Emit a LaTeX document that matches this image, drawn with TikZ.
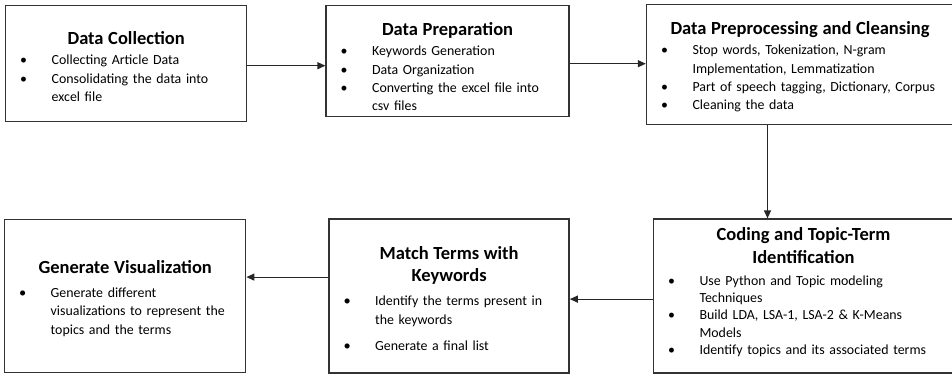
\documentclass[tikz,border=0pt]{standalone}
\usepackage{fontspec}
\setmainfont{Carlito}
\usepackage{enumitem}
\usetikzlibrary{arrows.meta,positioning}

% bullet lists inside the stage boxes
\setlist[itemize]{label=\makebox[0pt]{\textbullet}, leftmargin=46pt,
  labelwidth=0pt, labelsep=28pt, align=right, topsep=0pt, partopsep=0pt,
  itemsep=0pt, parsep=0pt}
\newcommand{\bigdot}{\makebox[0pt]{\Large\textbullet}}
% optional arg: strut height above the title, pushes the box text down
\newcommand{\stagetitle}[2][0pt]{{\centering\fontsize{18.5}{22.5}\selectfont\bfseries
  \rule{0pt}{#1}#2\par}\vspace{2pt}}

\begin{document}
\begin{tikzpicture}[x=1pt,y=-1pt,
    stage/.style 2 args={rectangle,draw=black!80,line width=1.4pt,inner sep=0pt,
      text width=#1,minimum height=#2,align=left,
      font=\fontsize{13.9}{18.3}\selectfont},
    flow/.style={-{Triangle[length=8pt,width=7pt]},line width=1.2pt,draw=black!85}]
  \useasboundingbox (0,0) rectangle (952,373);

  % top row
  \node[stage={241pt}{116pt},anchor=north west] (collect) at (5,5) {%
    \stagetitle[18.5pt]{Data Collection}
    \begin{itemize}
      \item Collecting Article Data
      \item Consolidating the data into\newline excel file
    \end{itemize}};
  \node[stage={243pt}{111pt},right=78pt of collect.north east,anchor=north west] (prep) {%
    \stagetitle[24pt]{Data Preparation}
    \begin{itemize}
      \item Keywords Generation
      \item Data Organization
      \item Converting the excel file into\newline csv files
    \end{itemize}};
  \node[stage={307pt}{120pt},right=76pt of prep.north east,anchor=north west,yshift=1pt] (clean) {%
    \stagetitle[17pt]{Data Preprocessing and Cleansing}
    \begin{itemize}
      \item Stop words, Tokenization, N-gram\newline Implementation, Lemmatization
      \item Part of speech tagging, Dictionary, Corpus
      \item Cleaning the data
    \end{itemize}};

  % bottom row, right to left
  \node[stage={300pt}{154pt},anchor=north east,font=\fontsize{13.9}{17.3}\selectfont] (coding)
      at ([yshift=-93pt]clean.south east) {%
    \stagetitle{Coding and Topic-Term\\Identification}
    \vspace{3pt}
    \begin{itemize}
      \item Use Python and Topic modeling\newline Techniques
      \item Build LDA, LSA-1, LSA-2 \& K-Means\newline Models
      \item Identify topics and its associated terms\rule[-10pt]{0pt}{10pt}
    \end{itemize}};
  \node[stage={240pt}{154pt},left=83pt of coding] (match) {%
    \stagetitle[17.5pt]{Match Terms with\\Keywords}
    \vspace{4pt}
    \begin{itemize}[label=\bigdot,itemsep=8pt]
      \item Identify the terms present in\newline the keywords
      \item Generate a final list
    \end{itemize}};
  \node[stage={241pt}{153pt},left=82pt of match] (vis) {%
    \stagetitle[17.5pt]{Generate Visualization}
    \vspace{4pt}
    \begin{itemize}[label=\bigdot]
      \item Generate different\newline visualizations to represent the\newline topics and the terms
    \end{itemize}};

  % connectors
  \draw[flow] ([yshift=-2pt]collect.east) -- ([yshift=-2pt]collect.east -| prep.west);
  \draw[flow] ([yshift=-2.5pt]prep.east) -- ([yshift=-2.5pt]prep.east -| clean.west);
  \draw[flow] ([xshift=-32.5pt]clean.south) -- ([xshift=-32.5pt]clean.south |- coding.north);
  \draw[flow] ([yshift=-3pt]coding.west) -- ([yshift=-3pt]coding.west -| match.east);
  \draw[flow] ([yshift=19pt]match.west) -- ([yshift=19pt]match.west -| vis.east);
\end{tikzpicture}
\end{document}
